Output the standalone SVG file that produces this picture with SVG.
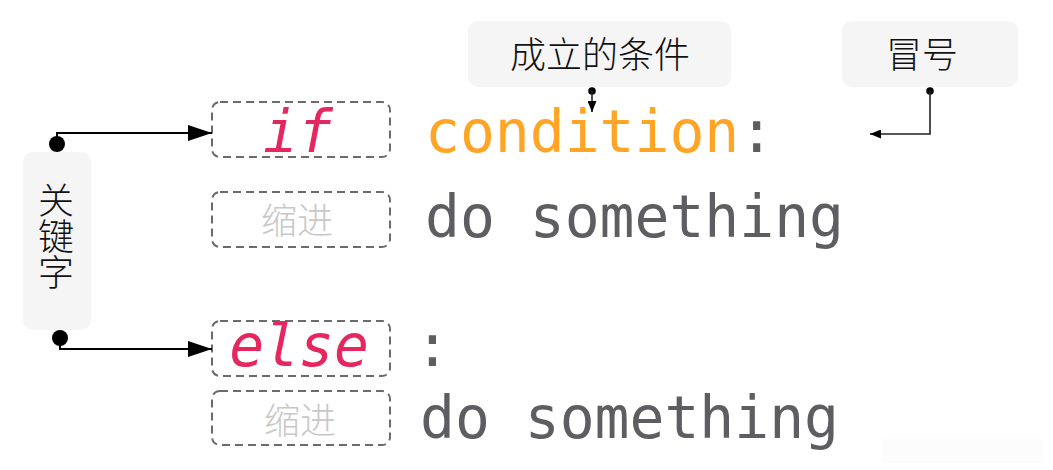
<svg xmlns="http://www.w3.org/2000/svg" width="1053" height="470" viewBox="0 0 1053 470">
<style>
.code{font-family:"DejaVu Sans Mono","Liberation Mono",monospace;font-size:58px;fill:#5e5e62}
.kw{font-family:"DejaVu Sans Mono","Liberation Mono",monospace;font-size:58px;font-style:italic;fill:#e6275f}
.cond{fill:#ffa526}
.slot{fill:none;stroke:#6b6b6b;stroke-width:2;stroke-dasharray:8 5}
.indent{font-family:"Noto Sans CJK SC","Noto Sans",sans-serif;font-size:36px;font-weight:300;fill:#c8c8c8}
.label{fill:#f5f5f5}
.lt{font-family:"Noto Sans CJK SC","Noto Sans",sans-serif;font-size:36px;font-weight:300;fill:#111}
.wire{fill:none;stroke:#000;stroke-width:2}
.thin{fill:none;stroke:#222;stroke-width:1.6}
</style>
<defs>
<marker id="big" markerUnits="userSpaceOnUse" markerWidth="24" markerHeight="16" refX="24" refY="8" orient="auto">
<path d="M0,0 L24,8 L0,16 Z" fill="#000"/>
</marker>
<marker id="small" markerUnits="userSpaceOnUse" markerWidth="11" markerHeight="9" refX="11" refY="4.5" orient="auto">
<path d="M0,0 L11,4.5 L0,9 Z" fill="#000"/>
</marker>
</defs>
<rect x="883" y="439" width="160" height="24" fill="#fcfcfc"/>
<g id="keyword-label">
<rect class="label" x="23" y="152" width="68" height="178" rx="10"/>
<text class="lt" x="56" y="236" writing-mode="tb" text-anchor="middle">关键字</text>
</g>
<g id="condition-label">
<rect class="label" x="468" y="21" width="263" height="66" rx="10"/>
<text class="lt" x="600" y="68" text-anchor="middle" font-size="37">成立的条件</text>
</g>
<g id="colon-label">
<rect class="label" x="842" y="21" width="176" height="66" rx="10"/>
<text class="lt" x="922" y="68" text-anchor="middle">冒号</text>
</g>
<g id="if-slot">
<rect class="slot" x="212" y="102" width="178" height="55" rx="8"/>
<text class="kw" x="298" y="152" text-anchor="middle">if</text>
</g>
<g id="indent-1">
<rect class="slot" x="212" y="192" width="178" height="55" rx="8"/>
<text class="indent" x="297" y="234" text-anchor="middle">缩进</text>
</g>
<g id="else-slot">
<rect class="slot" x="212" y="321" width="178" height="55" rx="8"/>
<text class="kw" x="299" y="366" text-anchor="middle">else</text>
</g>
<g id="indent-2">
<rect class="slot" x="212" y="391" width="178" height="54" rx="8"/>
<text class="indent" x="300" y="434" text-anchor="middle">缩进</text>
</g>
<g id="line-if">
<text class="code" x="425" y="152"><tspan class="cond">condition</tspan>:</text>
</g>
<g id="line-do-1">
<text class="code" x="425" y="237">do something</text>
</g>
<g id="line-else">
<text class="code" x="415" y="366">:</text>
</g>
<g id="line-do-2">
<text class="code" x="420" y="438">do something</text>
</g>
<g id="connectors">
<circle cx="57" cy="144" r="8" fill="#000"/>
<path class="wire" d="M57,144 V133 H212" marker-end="url(#big)"/>
<circle cx="60" cy="338" r="8" fill="#000"/>
<path class="wire" d="M60,338 V349 H212" marker-end="url(#big)"/>
<circle cx="592" cy="91" r="3.8" fill="#000"/>
<path class="thin" d="M592,91 V112" marker-end="url(#small)"/>
<circle cx="930" cy="91" r="3.8" fill="#000"/>
<path class="thin" d="M930,91 V134 H870" marker-end="url(#small)"/>
</g>
</svg>
